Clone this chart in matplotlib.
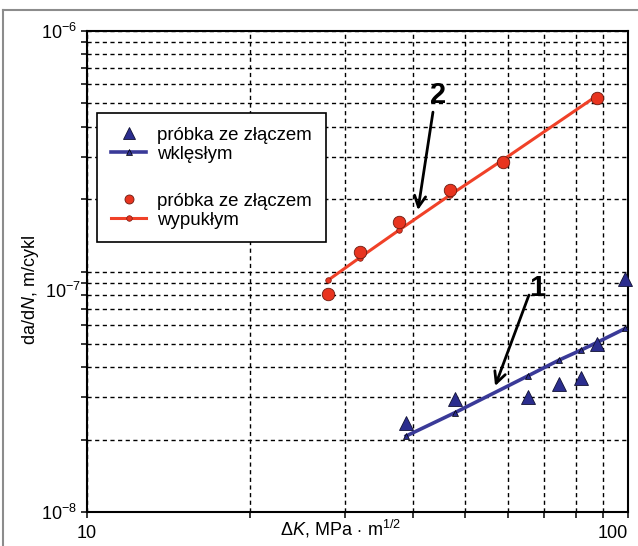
import matplotlib
matplotlib.use("Agg")
import matplotlib.pyplot as plt
from matplotlib.lines import Line2D
from matplotlib.ticker import LogLocator, NullFormatter
import matplotlib.transforms as mtransforms

plt.rcParams['font.family'] = ['Liberation Sans', 'DejaVu Sans']
plt.rcParams['mathtext.fontset'] = 'custom'
plt.rcParams['mathtext.rm'] = 'Liberation Sans'
plt.rcParams['mathtext.it'] = 'Liberation Sans:italic'
plt.rcParams['mathtext.bf'] = 'Liberation Sans:bold'

# seria 2 - próbka ze złączem wypukłym
dk_wypukly = [27.9, 31.9, 37.8, 46.9, 58.7, 87.5]
dadn_wypukly = [8.06e-8, 1.21e-7, 1.61e-7, 2.18e-7, 2.84e-7, 5.25e-7]
fit_wypukly = [9.2e-8, 1.14e-7, 1.49e-7, 2.08e-7, 2.91e-7, 5.37e-7]

# seria 1 - próbka ze złączem wklęsłym
dk_wklesly = [38.9, 47.9, 65.3, 74.7, 82.0, 87.5, 98.9]
dadn_wklesly = [2.34e-8, 2.94e-8, 3.02e-8, 3.39e-8, 3.60e-8, 5.0e-8, 9.28e-8]
fit_wklesly = [2.07e-8, 2.59e-8, 3.68e-8, 4.29e-8, 4.72e-8, 5.06e-8, 5.8e-8]

x_ticks = [10, 100]
x_ticklabels = ['10', '100']
y_ticks = [1e-8, 1e-7, 1e-6]
y_ticklabels = ['$10^{-8}$', '', '$10^{-6}$']

blue = '#2b2d8e'
blue_line = '#3a3a98'
red = '#e8341f'
red_line = '#f04128'

fig = plt.figure(figsize=(6.38, 5.46), dpi=100)
ax = fig.add_axes([87/638, 1 - 512/546, 541/638, 481/546])
ax.set_xscale('log')
ax.set_yscale('log')
ax.set_xlim(10, 100)
ax.set_ylim(1e-8, 1e-6)

# linie dopasowania
l_wkl, = ax.plot(dk_wklesly, fit_wklesly, color=blue_line, lw=2.6, marker='^',
                 ms=4.5, mfc=blue, mec='k', mew=0.5, zorder=3)
l_wyp, = ax.plot(dk_wypukly, fit_wypukly, color=red_line, lw=2.2, marker='o',
                 ms=4, mfc=red, mec='#7a1a10', mew=0.5, zorder=3)

# punkty pomiarowe
ax.plot(dk_wklesly, dadn_wklesly, ls='none', marker='^', ms=10.5,
        mfc=blue, mec='#111133', mew=0.6, zorder=4, clip_on=False)
ax.plot(dk_wypukly, dadn_wypukly, ls='none', marker='o', ms=9,
        mfc=red, mec='#6a1a10', mew=0.6, zorder=4, clip_on=False)

# siatka
ax.grid(True, which='both', color='k', linestyle=(0, (3, 2.5)), linewidth=1.0)
ax.set_axisbelow(True)

ax.xaxis.set_minor_locator(LogLocator(base=10, subs=range(2, 10)))
ax.yaxis.set_minor_locator(LogLocator(base=10, subs=range(2, 10)))
ax.xaxis.set_minor_formatter(NullFormatter())
ax.yaxis.set_minor_formatter(NullFormatter())
ax.set_xticks(x_ticks)
ax.set_xticklabels(x_ticklabels)
ax.get_xticklabels()[1].set_ha('right')
ax.set_yticks(y_ticks)
ax.set_yticklabels(y_ticklabels)
ax.tick_params(which='both', direction='out', length=4, width=1.1,
               labelsize=13, colors='k', pad=3)
ax.tick_params(axis='x', which='major', pad=5)
for s in ax.spines.values():
    s.set_linewidth(1.5)
    s.set_color('k')

# etykieta 10^-7 przesunięta jak w oryginale
ax.text(-0.012, 8.2e-8, '$10^{-7}$', fontsize=13, ha='right', va='center',
        transform=mtransforms.blended_transform_factory(ax.transAxes, ax.transData))

ax.set_xlabel(r'Δ$\mathit{K}$, MPa$\,\cdot\,$m$^{1/2}$', fontsize=13)
ax.xaxis.label.set_va('center')
ax.xaxis.set_label_coords(0.468, -0.036)
ax.set_ylabel(r'da/d$\mathit{N}$, m/cykl', fontsize=13)
ax.yaxis.label.set_va('center')
ax.yaxis.set_label_coords(-0.105, 0.4615)

# legenda
h_tri = Line2D([], [], ls='none', marker='^', ms=8.5, mfc=blue, mec='#111133', mew=0.6)
h_circ = Line2D([], [], ls='none', marker='o', ms=6.5, mfc=red, mec='#6a1a10', mew=0.6)
blank = Line2D([], [], ls='none')
leg = ax.legend([h_tri, l_wkl, blank, h_circ, l_wyp],
                ['próbka ze złączem', 'wklęsłym', ' ', 'próbka ze złączem', 'wypukłym'],
                loc='upper left', bbox_to_anchor=(0.0185, 0.8295), borderaxespad=0,
                fontsize=13.4, labelspacing=0.1, handlelength=1.9, handletextpad=0.6,
                borderpad=0.75, fancybox=False, framealpha=1, edgecolor='k')
leg.get_frame().set_linewidth(1.2)
leg.get_texts()[2].set_fontsize(20)
leg.set_zorder(5)

# strzałki z numerami
arrow = dict(arrowstyle='->', lw=2.0, color='k', mutation_scale=20, shrinkA=0, shrinkB=0)
ax.annotate('', xy=(40.9, 1.8e-7), xytext=(43.6, 4.6e-7), arrowprops=arrow, zorder=6)
ax.text(44.6, 5.42e-7, '2', fontsize=21, fontweight='bold', ha='center', va='center', zorder=6)
ax.annotate('', xy=(56.8, 3.34e-8), xytext=(65.6, 7.98e-8), arrowprops=arrow, zorder=6)
ax.text(67.8, 8.54e-8, '1', fontsize=21, fontweight='bold', ha='center', va='center', zorder=6)

# ramka rysunku (góra i lewa krawędź)
fig.add_artist(Line2D([3/638, 1], [1 - 10/546, 1 - 10/546], transform=fig.transFigure,
                      color='#8c8c8c', lw=1.5))
fig.add_artist(Line2D([3/638, 3/638], [0, 1 - 10/546], transform=fig.transFigure,
                      color='#8c8c8c', lw=1.5))

plt.savefig('out.png', dpi=100, facecolor='white')
